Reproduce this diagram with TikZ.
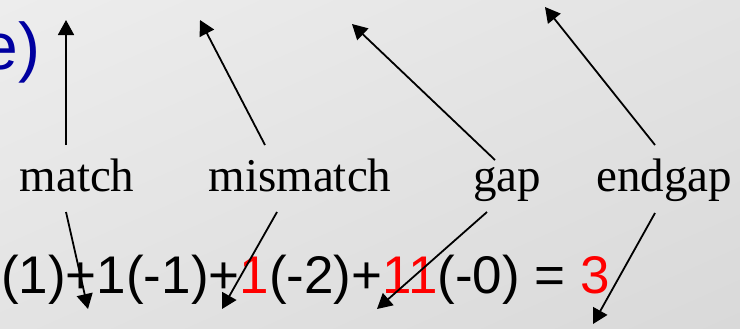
\documentclass[tikz,border=0pt]{standalone}
\usepackage{fontspec}
\setmainfont{Liberation Serif}
\setsansfont{Liberation Sans}
\usetikzlibrary{arrows.meta,shadings}
\definecolor{titleblue}{RGB}{0, 0, 160}
\definecolor{scorered}{RGB}{255, 0, 0}
\definecolor{bglight}{RGB}{237, 237, 237}
\definecolor{bgmid}{RGB}{227, 227, 227}
\definecolor{bgdark}{RGB}{217, 217, 217}
\tikzset{
 termlabel/.style={
 inner sep=0pt,
 anchor=base,
 font=\fontsize{23.5}{28}\selectfont
 },
 formula/.style={
 inner sep=0pt,
 anchor=base west,
 font=\sffamily\fontsize{26.5}{32}\selectfont
 },
 pointer/.style={-{Triangle[length=7.5pt,width=8pt]}, line width=0.9pt, draw=black}
}

\begin{document}
\begin{tikzpicture}[x=0.5pt, y=-0.5pt]
 \useasboundingbox (0,0) rectangle (740,328);
 \clip (0,0) rectangle (740,328);
 \shade[upper left=bglight, upper right=bgmid, lower left=bgmid, lower right=bgdark] (0,0) rectangle (740,328);

 \node[inner sep=0pt, anchor=base east, text=titleblue, font=\sffamily\fontsize{33}{40}\selectfont] (title) at (41,69) {e)};

 \node[termlabel] (match) at (77,191) {match};
 \node[termlabel] (mismatch) at (300,191) {mismatch};
 \node[termlabel] (gap) at (507,191) {gap};
 \node[termlabel] (endgap) at (664,191) {endgap};

 \node[formula] (score) at (0.7,293.5) {(1)+1(-1)+\textcolor{scorered}{1}(-2)+\textcolor{scorered}{11}(-0) = \textcolor{scorered}{3}};

 % arrow ends
 \coordinate (matchtop) at (66,20);
 \coordinate (mismatchtop) at (200,20);
 \coordinate (gaptop) at (352,24);
 \coordinate (endgaptop) at (545,7);
 \coordinate (matchlow) at (88,309);
 \coordinate (mismatchlow) at (222,309);
 \coordinate (gaplow) at (377,309);
 \coordinate (endgaplow) at (593,324);

 \draw[pointer] ([shift={(-11,-46)}]match.base) -- (matchtop);
 \draw[pointer] ([shift={(-35,-46)}]mismatch.base) -- (mismatchtop);
 \draw[pointer] ([shift={(-12,-31)}]gap.base) -- (gaptop);
 \draw[pointer] ([shift={(-9,-46)}]endgap.base) -- (endgaptop);

 \draw[pointer] ([shift={(-11,21)}]match.base) -- (matchlow);
 \draw[pointer] ([shift={(-23,21)}]mismatch.base) -- (mismatchlow);
 \draw[pointer] ([shift={(-20,21)}]gap.base) -- (gaplow);
 \draw[pointer] ([shift={(-9,22)}]endgap.base) -- (endgaplow);
\end{tikzpicture}
\end{document}
